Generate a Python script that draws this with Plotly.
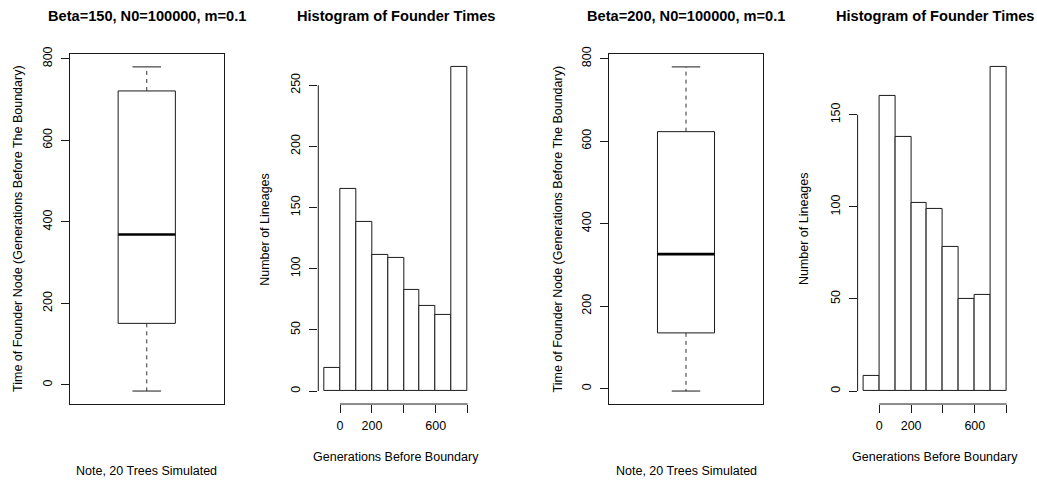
import plotly.graph_objects as go

W, H = 1037, 482

# ---------------- data ----------------
box_titles = ["Beta=150, N0=100000, m=0.1", "Beta=200, N0=100000, m=0.1"]
box1_stats = {"lower": -15, "q1": 151, "median": 369, "q3": 721, "upper": 780}
box2_stats = {"lower": -6, "q1": 135, "median": 326, "q3": 623, "upper": 780}
box_yticks = [0, 200, 400, 600, 800]

hist_breaks = [-100, 0, 100, 200, 300, 400, 500, 600, 700, 800]
hist1_counts = [19, 165, 138, 111, 109, 83, 70, 62, 265]
hist2_counts = [8, 160, 138, 102, 99, 78, 50, 52, 176]
hist_xticks = [0, 200, 400, 600, 800]
hist_xticktext = ["0", "200", "", "600", ""]
hist1_yticks = [0, 50, 100, 150, 200, 250]
hist2_yticks = [0, 50, 100, 150]

hist_title = "Histogram of Founder Times"
box_ylabel = "Time of Founder Node (Generations Before The Boundary)"
box_sub = "Note, 20 Trees Simulated"
hist_xlabel = "Generations Before Boundary"
hist_ylabel = "Number of Lineages"

# ---------------- layout geometry (pixels) ----------------
FONT = "Liberation Sans, Arial, Helvetica, sans-serif"
FS = 12.5
TFS = 14.6
LC = "#1a1a1a"
plot_top, plot_bot = 46.7, 402.7
panels_px = [(69.5, 224.0), (318.3, 473.4), (609.0, 763.0), (857.6, 1012.4)]


def px_x(p):
    return p / W


def px_y(p):
    return 1 - p / H


ydom = [px_y(plot_bot), px_y(plot_top)]

fig = go.Figure()
annotations = []
shapes = []


def ann(text, x, y, size=FS, bold=False, angle=0):
    annotations.append(dict(
        text=("<b>%s</b>" % text) if bold else text,
        x=px_x(x), y=px_y(y), xref="paper", yref="paper",
        xanchor="center", yanchor="middle", showarrow=False,
        textangle=angle, font=dict(family=FONT, size=size, color="black")))


def add_box(idx, stats, title):
    xa = "x%d" % idx if idx > 1 else "x"
    ya = "y%d" % idx if idx > 1 else "y"
    line = dict(color=LC, width=1)
    c, hw, cw = 1.0, 0.2, 0.1
    # box
    fig.add_trace(go.Scatter(x=[c - hw, c + hw, c + hw, c - hw, c - hw],
                             y=[stats["q1"], stats["q1"], stats["q3"], stats["q3"], stats["q1"]],
                             mode="lines", line=line, xaxis=xa, yaxis=ya, showlegend=False, hoverinfo="skip"))
    # median
    fig.add_trace(go.Scatter(x=[c - hw, c + hw], y=[stats["median"], stats["median"]],
                             mode="lines", line=dict(color="black", width=2.6), xaxis=xa, yaxis=ya,
                             showlegend=False, hoverinfo="skip"))
    # whiskers
    dline = dict(color="#333333", width=1, dash="4px,4px")
    fig.add_trace(go.Scatter(x=[c, c], y=[stats["q3"], stats["upper"]], mode="lines", line=dline,
                             xaxis=xa, yaxis=ya, showlegend=False, hoverinfo="skip"))
    fig.add_trace(go.Scatter(x=[c, c], y=[stats["q1"], stats["lower"]], mode="lines", line=dline,
                             xaxis=xa, yaxis=ya, showlegend=False, hoverinfo="skip"))
    # caps
    for v in (stats["upper"], stats["lower"]):
        fig.add_trace(go.Scatter(x=[c - cw, c + cw], y=[v, v], mode="lines", line=line,
                                 xaxis=xa, yaxis=ya, showlegend=False, hoverinfo="skip"))
    lo, hi = stats["lower"], stats["upper"]
    pad = 0.04 * (hi - lo)
    x0, x1 = panels_px[idx - 1]
    key = "" if idx == 1 else str(idx)
    fig.layout["xaxis" + key] = dict(domain=[px_x(x0), px_x(x1)], range=[0.46, 1.54], anchor=ya,
                                     showline=True, mirror=True, linecolor=LC, linewidth=1,
                                     ticks="", showticklabels=False, showgrid=False, zeroline=False,
                                     fixedrange=True)
    fig.layout["yaxis" + key] = dict(domain=ydom, range=[lo - pad, hi + pad], anchor=xa,
                                     showline=True, mirror=True, linecolor=LC, linewidth=1,
                                     ticks="outside", ticklen=8, tickcolor=LC, tickwidth=1,
                                     tickvals=box_yticks, tickangle=-90, ticklabelstandoff=4,
                                     tickfont=dict(family=FONT, size=FS, color="black"),
                                     showgrid=False, zeroline=False, fixedrange=True)
    cx = (x0 + x1) / 2
    ann(title, cx, 8, size=TFS, bold=True)
    ann(box_ylabel, x0 - 51.5, (plot_top + plot_bot) / 2, angle=-90)
    ann(box_sub, cx, 471)


def add_hist(idx, counts, yticks):
    xa = "x%d" % idx
    ya = "y%d" % idx
    lefts = hist_breaks[:-1]
    rights = hist_breaks[1:]
    centers = [(a + b) / 2 for a, b in zip(lefts, rights)]
    widths = [b - a for a, b in zip(lefts, rights)]
    fig.add_trace(go.Bar(x=centers, y=counts, width=widths,
                         marker=dict(color="white", line=dict(color=LC, width=1)),
                         xaxis=xa, yaxis=ya, showlegend=False, hoverinfo="skip"))
    xr = hist_breaks[-1] - hist_breaks[0]
    ymax = max(counts)
    x0, x1 = panels_px[idx - 1]
    fig.layout["xaxis%d" % idx] = dict(domain=[px_x(x0), px_x(x1)],
                                       range=[hist_breaks[0] - 0.04 * xr, hist_breaks[-1] + 0.04 * xr],
                                       anchor=ya, showline=False, ticks="outside", ticklen=8,
                                       tickcolor=LC, tickwidth=1, tickvals=hist_xticks,
                                       ticktext=hist_xticktext, ticklabelstandoff=2,
                                       tickfont=dict(family=FONT, size=FS, color="black"),
                                       showgrid=False, zeroline=False, fixedrange=True)
    fig.layout["yaxis%d" % idx] = dict(domain=ydom, range=[-0.04 * ymax, 1.04 * ymax], anchor=xa,
                                       showline=False, ticks="outside", ticklen=8, tickcolor=LC,
                                       tickwidth=1, tickvals=yticks, tickangle=-90,
                                       ticklabelstandoff=4,
                                       tickfont=dict(family=FONT, size=FS, color="black"),
                                       showgrid=False, zeroline=False, fixedrange=True)
    # R-style axis lines spanning only the tick range
    shapes.append(dict(type="line", xref=xa, yref="%s domain" % ya,
                       x0=hist_xticks[0], x1=hist_xticks[-1], y0=0, y1=0,
                       line=dict(color=LC, width=1)))
    shapes.append(dict(type="line", xref="%s domain" % xa, yref=ya,
                       x0=0, x1=0, y0=yticks[0], y1=yticks[-1],
                       line=dict(color=LC, width=1)))
    cx = (x0 + x1) / 2
    ann(hist_title, cx, 8, size=TFS, bold=True)
    ann(hist_ylabel, x0 - 53.5, (plot_top + plot_bot) / 2, angle=-90)
    ann(hist_xlabel, cx, 456.5)


add_box(1, box1_stats, box_titles[0])
add_hist(2, hist1_counts, hist1_yticks)
add_box(3, box2_stats, box_titles[1])
add_hist(4, hist2_counts, hist2_yticks)

fig.update_layout(width=W, height=H, autosize=False,
                  margin=dict(l=0, r=0, t=0, b=0),
                  paper_bgcolor="white", plot_bgcolor="white",
                  annotations=annotations, shapes=shapes,
                  font=dict(family=FONT, size=FS, color="black"),
                  bargap=0)

fig.write_html("out.html", config={"displayModeBar": False})
